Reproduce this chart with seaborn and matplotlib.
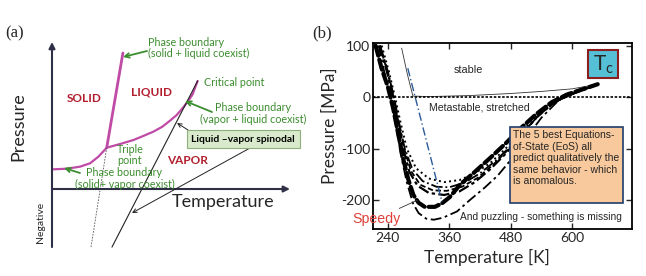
import matplotlib
matplotlib.use("Agg")
import matplotlib.pyplot as plt
from matplotlib import font_manager as fm
from matplotlib.patches import Rectangle, FancyArrowPatch
import numpy as np
import pandas as pd
import seaborn as sns

sns.set_style("white")
plt.rcParams["font.family"] = ["Lato", "DejaVu Sans"]
plt.rcParams["axes.unicode_minus"] = False

# ---------------- Panel (a): schematic phase diagram (arbitrary units) ----------------
sv_T = [0.6, 6.2, 11.8, 16.0, 19.5, 23.0]                       # solid-vapor boundary
sv_P = [13.4, 13.8, 15.2, 17.5, 22.0, 28.1]
lv_T = [23.0, 28.6, 34.2, 38.4, 42.6, 46.4, 49.6, 52.4, 55.2, 57.3, 59.1, 61.2]  # liquid-vapor
lv_P = [28.1, 30.6, 33.3, 36.1, 39.0, 42.4, 46.5, 50.3, 55.6, 59.9, 64.4, 73.5]
sl_T = [23.0, 29.8]                                              # solid-liquid boundary
sl_P = [28.1, 92.5]
slx_T = [16.4, 23.0]                                             # extension to negative P
slx_P = [-39.5, 28.1]
sp_T = [25.2, 61.2]                                              # liquid-vapor spinodal
sp_P = [-39.5, 73.5]

# ---------------- Panel (b): water EoS spinodals (T [K], P [MPa]) ----------------
eosA_T = [228, 242, 254, 265, 277, 295, 320, 350, 380, 410, 440, 470, 500, 530, 560, 600, 630, 650]
eosA_P = [100, 50, 0, -50, -100, -138, -158, -165, -161, -148, -128, -100, -68, -35, -12, 7, 17, 25]
eosB_T = [225, 240, 252, 262, 273, 288, 308, 335, 360, 390, 420, 450, 480, 510, 540, 570, 605, 635, 650]
eosB_P = [100, 50, 0, -50, -100, -140, -163, -174, -175, -166, -148, -124, -95, -62, -30, -8, 8, 19, 25]
eosE_T = [224, 239, 251, 261, 272, 285, 303, 328, 355, 385, 415, 445, 475, 505, 535, 567, 602, 632, 650]
eosE_P = [100, 50, 0, -50, -100, -143, -170, -181, -182, -174, -157, -132, -102, -68, -35, -9, 7, 18, 25]
eosC_T = [224, 238, 250, 260, 270, 282, 298, 320, 350, 380, 410, 440, 470, 500, 530, 565, 600, 630, 650]
eosC_P = [100, 50, 0, -50, -100, -145, -172, -186, -190, -183, -165, -140, -110, -75, -40, -10, 6, 17, 25]
eosD_T = [222, 235, 246, 255, 265, 277, 289, 300, 315, 330, 348, 375, 400, 430, 455, 480, 510, 540, 575, 615, 650]
eosD_P = [100, 40, 0, -50, -110, -165, -206, -225, -236, -238, -234, -222, -200, -175, -152, -122, -80, -40, -5, 12, 25]
speedy_T = [216, 228, 240, 250, 260, 270, 280, 290, 300, 312, 332, 346, 361, 381, 410, 440, 470, 500, 530, 560, 590, 620, 650]
speedy_P = [100, 55, 20, -20, -70, -120, -160, -190, -205, -213, -213, -206, -194, -170, -145, -118, -90, -60, -33, -10, 5, 15, 25]
coex_T = [267, 278, 289, 320, 400, 480, 540, 600, 650]
coex_P = [95, 45, 2, 1, 3, 7, 11, 16, 25]
blue_T = [279, 346]
blue_P = [56, -204]

xticks_b = [240, 360, 480, 600]
yticks_b = [100, 0, -100, -200]

W, H = 646, 276
fig = plt.figure(figsize=(W / 100, H / 100), dpi=100)
renderer = fig.canvas.get_renderer()


def F(px, py):
    return (px / W, 1 - py / H)


try:
    fm.findfont(fm.FontProperties(family="Liberation Sans Narrow"), fallback_to_default=False)
    narrow = ["Liberation Sans Narrow", "DejaVu Sans"]
except Exception:
    narrow = ["Liberation Sans", "DejaVu Sans"]


def fit(s, target_px, family):
    """font size giving the text a width of target_px pixels"""
    t = fig.text(0, 0, s, fontsize=10, family=family)
    w = t.get_window_extent(renderer).width
    t.remove()
    return 10 * target_px / w


# ---------------- Panel (a) ----------------
axA = fig.add_axes([48 / W, 1 - 249 / H, 246 / W, 211 / H])
axA.set_xlim(-1.68, 101.7)
axA.set_ylim(-40.8, 102.7)
axA.axis("off")

purple = "#C04BA6"
sns.lineplot(x=sv_T, y=sv_P, ax=axA, color=purple, lw=1.6, sort=False)
sns.lineplot(x=lv_T, y=lv_P, ax=axA, color=purple, lw=1.6, sort=False)
sns.lineplot(x=sl_T, y=sl_P, ax=axA, color=purple, lw=2.0, sort=False)
sns.lineplot(x=slx_T, y=slx_P, ax=axA, color="#555555", lw=0.6, sort=False,
             linestyle=(0, (2, 1.5)))
sns.lineplot(x=sp_T, y=sp_P, ax=axA, color="#222222", lw=0.8, sort=False)

axis_col = "#2f2f48"
axA.annotate("", xy=(0, 100), xytext=(0, -39.5),
             arrowprops=dict(arrowstyle="-|>", color=axis_col, lw=1.5,
                             shrinkA=0, shrinkB=0, mutation_scale=9))
axA.annotate("", xy=(100, 0), xytext=(0, 0),
             arrowprops=dict(arrowstyle="-|>", color=axis_col, lw=1.5,
                             shrinkA=0, shrinkB=0, mutation_scale=9))

green = "#3C8D2F"
red = "#B21E2E"
gs = fit("(solid + liquid coexist)", 102, ["Lato"])
fig.text(*F(18, 127), "Pressure", rotation=90, fontsize=13, ha="center", va="center")
fig.text(*F(223, 202), "Temperature", fontsize=13, ha="center", va="center")
fig.text(*F(40, 222), "Negative", rotation=90, fontsize=7.5, ha="center", va="center")
fig.text(*F(84, 99), "SOLID", fontsize=8.5, color=red, weight="bold", ha="center", va="center")
fig.text(*F(152, 92), "LIQUID", fontsize=8.5, color=red, weight="bold", ha="center", va="center")
fig.text(*F(188, 161), "VAPOR", fontsize=8.5, color=red, weight="bold", ha="center", va="center")
fig.text(*F(148, 48), "Phase boundary\n(solid + liquid coexist)", fontsize=gs, color=green,
         ha="left", va="center", linespacing=1.0)
fig.text(*F(204, 83), "Critical point", fontsize=gs, color=green, ha="left", va="center")
fig.text(*F(253, 113.5), "Phase boundary\n(vapor + liquid coexist)", fontsize=gs, color=green,
         ha="center", va="center", linespacing=1.0, multialignment="center")
fig.text(*F(130, 155), "Triple\npoint", fontsize=gs, color=green,
         ha="center", va="center", linespacing=0.95, multialignment="center")
fig.text(*F(124.5, 178.5), "Phase boundary\n(solid+ vapor coexist)", fontsize=gs, color=green,
         ha="center", va="center", linespacing=1.0, multialignment="center")
fig.text(*F(243, 139), "Liquid \u2013vapor spinodal", fontsize=7.4, color="black", weight="bold",
         ha="center", va="center",
         bbox=dict(boxstyle="square,pad=0.45", fc="#D8EACB", ec="#8FAE7E", lw=0.8))

garrow = dict(arrowstyle="->", color=green, lw=1.3, shrinkA=0, shrinkB=0, mutation_scale=8)
karrow = dict(arrowstyle="->", color="#222222", lw=0.7, shrinkA=0, shrinkB=0, mutation_scale=7)
for (x0, y0), (x1, y1), st in [((147, 51), (123, 57), garrow),
                               ((212, 112), (185, 101), garrow),
                               ((80, 173), (64, 168), garrow),
                               ((188, 130), (177, 123), karrow),
                               ((250, 148), (132, 213), karrow)]:
    fig.add_artist(FancyArrowPatch(F(x0, y0), F(x1, y1), transform=fig.transFigure, **st))

fig.text(*F(15, 33), "(a)", fontsize=12, family="Liberation Serif", ha="center", va="center")
fig.text(*F(322, 33), "(b)", fontsize=12, family="Liberation Serif", ha="center", va="center")

# ---------------- Panel (b) ----------------
axB = fig.add_axes([373 / W, 1 - 229 / H, 259 / W, 186 / H])
axB.set_xlim(211, 717)
axB.set_ylim(-256, 105)

sns.lineplot(x=coex_T, y=coex_P, ax=axB, color="#333333", lw=0.6, sort=False)
sns.lineplot(x=eosA_T, y=eosA_P, ax=axB, color="black", lw=1.4, sort=False, linestyle=":")
sns.lineplot(x=eosB_T, y=eosB_P, ax=axB, color="black", lw=1.3, sort=False, linestyle="-.")
sns.lineplot(x=eosE_T, y=eosE_P, ax=axB, color="black", lw=1.3, sort=False,
             linestyle=(0, (3, 1.5)))
sns.lineplot(x=eosC_T, y=eosC_P, ax=axB, color="black", lw=1.6, sort=False,
             linestyle=(0, (5, 1.5, 1.5, 1.5)))
sns.lineplot(x=eosD_T, y=eosD_P, ax=axB, color="black", lw=1.3, sort=False,
             linestyle=(0, (6, 2, 1.5, 2)))
sns.lineplot(x=speedy_T, y=speedy_P, ax=axB, color="black", lw=3.0, sort=False,
             linestyle=(0, (2.5, 1)), dash_capstyle="round")
sns.lineplot(x=blue_T, y=blue_P, ax=axB, color="#2C5A9A", lw=1.0, sort=False,
             linestyle=(0, (6, 2, 1, 2)))
axB.axhline(0, color="black", lw=1.2, linestyle=(0, (1.5, 1)))

for s in axB.spines.values():
    s.set_color("black")
    s.set_linewidth(1.3)
axB.set_xticks(xticks_b)
axB.set_xticklabels([str(v) for v in xticks_b])
axB.set_yticks(yticks_b)
axB.set_yticklabels([str(v) for v in yticks_b])
axB.tick_params(direction="in", length=4, width=1, labelsize=10, pad=2,
                top=True, right=True, bottom=True, left=True)
fig.text(*F(487, 257), "Temperature [K]", fontsize=12.5, ha="center", va="center")
fig.text(*F(330, 126), "Pressure [MPa]", fontsize=12.5, rotation=90, ha="center", va="center")

axB.text(397, 52, "stable", fontsize=fit("stable", 29, narrow), family=narrow,
         ha="center", va="center")
axB.text(418, -21, "Metastable, stretched", fontsize=fit("Metastable, stretched", 100, narrow),
         family=narrow, ha="center", va="center")
puzz = "And puzzling - something is missing"
axB.text(540, -233, puzz, fontsize=fit(puzz, 162, narrow), family=narrow,
         ha="center", va="center")
axB.annotate("Speedy", xy=(298, -200), xytext=(265, -236), fontsize=fit("Speedy", 48, narrow),
             family=narrow, color="#E0403A", ha="right", va="center",
             arrowprops=dict(arrowstyle="-", color="#333333", lw=0.6, shrinkA=0, shrinkB=0))
axB.add_patch(Rectangle((479, -205.6), 221, 147.4, fc="#F8C99C", ec="#1F3D6B", lw=1.2,
                        zorder=5))
bs = fit("predict qualitatively the", 106, narrow)
axB.text(484, -64, "The 5 best Equations-\nof-State (EoS) all\npredict qualitatively the\n"
         "same behavior - which\nis anomalous.", fontsize=bs, family=narrow,
         ha="left", va="top", linespacing=14.3 / (bs * 1.389 * 1.16), zorder=6)
axB.add_patch(Rectangle((631.4, 36.9), 58.7, 54.3, fc="#55BFD6", ec="#8B1E1E", lw=1.5,
                        zorder=5))
axB.text(661, 63, "T$_\\mathregular{c}$", fontsize=15, family="Lato", ha="center", va="center",
         zorder=6)

fig.savefig("out.png", dpi=100)
